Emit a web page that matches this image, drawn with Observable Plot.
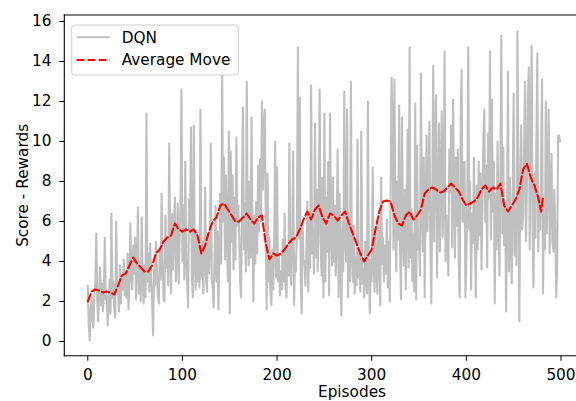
<!DOCTYPE html>
<html><head><meta charset="utf-8">
<script src="https://cdn.jsdelivr.net/npm/d3@7"></script>
<script src="https://cdn.jsdelivr.net/npm/@observablehq/plot@0.6"></script>
<style>
html,body{margin:0;padding:0;background:#fff;}
#chart{position:relative;width:576px;height:401px;overflow:hidden;}
</style></head><body><div id="chart"></div>
<script>
// DQN score per episode (episodes 0..499)
const dqnScores = [
2.8,0.9,0.05,1.6,2.2,1.0,0.7,2.4,3.0,5.4,
2.0,1.0,2.6,3.7,1.8,2.9,1.5,2.4,5.2,2.1,
2.3,0.8,1.9,3.1,1.4,6.4,2.2,3.0,1.6,1.2,
6.0,2.6,2.5,1.5,3.8,1.9,3.2,2.6,4.1,2.3,
3.5,2.2,4.4,1.6,3.0,5.9,3.3,2.6,4.8,3.4,
5.2,2.1,3.6,6.7,2.4,4.0,2.0,6.2,3.1,1.9,
3.8,2.2,11.4,3.0,4.4,2.5,4.9,3.2,2.0,0.3,
3.6,2.8,5.0,3.5,2.3,1.9,4.5,3.1,7.4,4.0,
2.2,2.0,6.3,3.7,5.0,2.8,9.9,4.6,2.4,6.4,
3.6,5.8,7.2,3.0,4.4,6.9,2.9,5.1,7.0,12.6,
4.0,6.8,3.1,9.0,4.2,2.9,1.7,7.1,5.4,10.7,
3.3,2.2,10.8,4.0,2.6,5.5,3.0,4.8,2.7,11.6,
3.2,5.0,2.4,4.1,7.7,3.0,2.5,5.2,3.4,4.6,
9.9,3.1,2.6,1.7,4.5,6.8,3.0,5.5,1.6,4.2,
7.4,3.9,13.5,6.0,9.2,4.1,8.3,5.2,3.0,10.5,
1.4,9.5,5.0,8.3,3.6,7.2,4.1,10.2,5.8,6.8,
5.3,3.0,2.2,7.8,11.7,4.6,6.9,3.5,13.0,5.2,
3.8,8.0,4.2,11.2,5.5,2.0,6.3,3.9,7.0,4.4,
8.8,5.5,9.1,6.0,12.0,7.6,10.7,11.6,6.2,1.6,
8.4,3.0,5.2,2.4,1.8,4.6,2.6,5.0,10.0,3.2,
8.7,3.0,4.4,2.3,3.5,2.6,5.1,3.0,6.4,2.7,
2.2,4.8,3.3,9.9,3.6,2.8,5.4,9.5,1.8,4.2,
3.5,6.0,14.7,5.2,12.2,3.1,1.4,5.8,3.9,4.0,
2.8,4.6,7.0,2.5,6.2,3.7,12.8,4.4,5.6,3.4,
10.9,4.2,7.6,3.5,6.8,12.6,5.0,3.3,8.2,2.2,
11.4,3.0,7.2,4.5,9.0,2.3,11.4,5.6,3.8,8.2,
4.0,6.8,3.3,5.5,9.6,2.2,7.4,4.1,1.3,6.0,
3.5,12.5,5.2,4.0,11.6,2.2,6.3,3.0,13.0,4.5,
3.0,5.8,2.4,4.2,2.8,10.1,3.2,4.6,2.5,10.5,
2.9,3.6,2.2,5.0,3.1,2.4,12.0,3.4,1.4,4.1,
3.0,8.7,4.2,2.5,5.6,3.6,2.4,6.0,4.5,1.8,
8.2,3.9,5.2,3.0,4.8,3.4,6.1,2.7,5.0,2.0,
7.4,13.2,10.9,4.6,13.1,6.2,3.5,8.0,5.1,11.8,
4.4,2.1,11.2,5.3,3.8,7.6,2.6,6.1,10.6,3.7,
14.7,4.2,6.6,3.0,5.4,2.5,11.9,2.1,9.8,4.6,
5.0,3.3,13.4,7.0,4.5,9.2,2.2,6.7,10.3,5.5,
8.0,11.0,4.8,1.9,7.2,13.8,5.0,9.4,12.3,3.2,
6.6,10.9,4.5,8.1,11.5,5.2,7.0,14.5,4.0,6.3,
5.1,3.3,9.6,7.5,10.8,4.7,12.1,7.5,4.2,9.2,
5.8,9.6,3.9,2.2,11.0,13.6,6.0,6.0,9.0,2.2,
4.0,7.3,14.7,5.6,8.0,2.6,6.4,4.9,9.2,5.5,
2.2,7.8,4.6,9.0,5.3,8.4,3.6,6.8,10.2,11.6,
6.0,8.8,3.7,10.4,7.2,14.5,5.1,12.1,6.5,9.0,
1.9,7.4,4.6,10.0,6.2,3.3,8.5,15.3,5.4,9.7,
4.8,7.0,1.5,6.1,13.5,3.5,8.2,5.0,2.9,7.6,
12.4,4.3,6.6,3.8,15.5,9.0,1.0,7.4,10.8,5.6,
6.2,9.4,13.0,5.0,7.8,12.2,13.7,4.6,9.9,14.8,
6.0,2.7,8.4,5.2,10.0,14.4,4.5,7.2,5.6,9.0,
13.1,2.4,6.8,4.6,12.0,5.4,8.0,11.6,4.4,6.6,
9.4,5.0,4.5,7.6,5.7,2.2,4.0,10.3,10.3,10.0
];

// Moving average ("Average Move")
const avgEpisodes = [
0,4,8,12,16,20,24,28,32,36,40,44,48,52,56,60,64,68,72,76,
80,84,88,92,96,100,104,108,112,116,120,124,128,132,136,140,144,148,152,156,
160,164,168,172,176,180,184,188,192,196,200,204,208,212,216,220,224,228,232,236,
240,244,248,252,256,260,264,268,272,276,280,284,288,292,296,300,304,308,312,316,
320,324,328,332,336,340,344,348,352,356,360,364,368,372,376,380,384,388,392,396,
400,404,408,412,416,420,424,428,432,436,440,444,448,452,456,460,464,468,472,476,
479,481
];
const avgScores = [
2.0,2.5,2.6,2.55,2.45,2.5,2.45,2.35,2.8,3.3,3.4,3.8,4.2,3.9,3.7,3.5,3.5,3.8,4.4,4.6,
5.0,5.2,5.3,5.9,5.6,5.5,5.6,5.5,5.6,5.3,4.4,4.8,5.5,6.0,6.2,6.8,6.9,6.6,6.3,6.0,
6.0,6.2,6.4,6.1,5.9,6.2,6.3,4.9,4.1,4.4,4.3,4.4,4.6,4.9,5.1,5.2,5.6,6.1,6.5,6.1,
6.6,6.8,6.2,5.9,6.4,6.3,6.05,6.3,6.5,5.9,5.4,4.9,4.4,4.0,4.3,4.6,5.6,6.5,7.0,7.05,
7.0,6.3,5.9,5.8,6.3,6.5,6.1,6.3,6.6,7.4,7.6,7.7,7.6,7.45,7.5,7.7,7.9,7.7,7.5,7.1,
6.8,6.9,7.0,7.2,7.6,7.8,7.5,7.7,7.6,7.9,6.8,6.5,6.8,7.1,7.6,8.6,8.9,8.2,7.8,7.2,
6.5,7.2
];

const xTicks = [0,100,200,300,400,500];
const yTicks = [0,2,4,6,8,10,12,14,16];
const seriesNames = ["DQN","Average Move"];
const seriesColors = ["#bfbfbf","#ff0000"];
const xLabel = "Episodes";
const yLabel = "Score - Rewards";

const FONT = "DejaVu Sans";
const FS = 15.3;
const dqn = dqnScores.map((score, episode) => ({episode, score}));
const avg = avgEpisodes.map((episode, i) => ({episode, score: avgScores[i]}));

const chart = Plot.plot({
  width: 576, height: 401,
  marginLeft: 64.3, marginRight: 0, marginTop: 15, marginBottom: 45.3,
  style: {fontFamily: FONT, fontSize: FS + "px", color: "black", background: "white"},
  x: {domain: [-24.3, 516.4]},
  y: {domain: [-0.735, 16.3]},
  marks: [
    Plot.lineY(dqn, {x: "episode", y: "score", stroke: seriesColors[0], strokeWidth: 2.1}),
    Plot.lineY(avg, {x: "episode", y: "score", stroke: seriesColors[1], strokeWidth: 2.1, strokeDasharray: "7.7,3.3"}),
    Plot.axisX({ticks: xTicks, tickSize: 5, tickPadding: 8.4, label: null, fontSize: FS}),
    Plot.axisY({ticks: yTicks, tickSize: 5, tickPadding: 8.3, label: null, fontSize: FS})
  ]
});
document.getElementById("chart").appendChild(chart);

const svg = d3.select(chart);
const xs = chart.scale("x"), ys = chart.scale("y");
const L = xs.range[0], R = 576, T = Math.min(...ys.range), B = Math.max(...ys.range);
const spines = svg.append("g").attr("stroke", "black").attr("stroke-width", 1.1).attr("stroke-linecap", "square");
spines.append("line").attr("x1", L).attr("x2", R).attr("y1", T).attr("y2", T);
spines.append("line").attr("x1", L).attr("x2", R).attr("y1", B).attr("y2", B);
spines.append("line").attr("x1", L).attr("x2", L).attr("y1", T).attr("y2", B);

// axis titles
svg.append("text").attr("x", 352).attr("y", 396.8).attr("text-anchor", "middle")
  .attr("font-family", FONT).attr("font-size", FS).attr("fill", "black").text(xLabel);
svg.append("text").attr("transform", `translate(27.5,${(T + B) / 2}) rotate(-90)`).attr("text-anchor", "middle")
  .attr("font-family", FONT).attr("font-size", FS).attr("fill", "black").text(yLabel);

// legend
const lg = svg.append("g");
lg.append("rect").attr("x", 71.7).attr("y", 25).attr("width", 166.6).attr("height", 50).attr("rx", 3)
  .attr("fill", "white").attr("fill-opacity", 0.8).attr("stroke", "#cccccc").attr("stroke-width", 1);
const rows = [37.3, 60];
seriesNames.forEach((name, i) => {
  lg.append("line").attr("x1", 76.7).attr("x2", 110).attr("y1", rows[i]).attr("y2", rows[i])
    .attr("stroke", seriesColors[i]).attr("stroke-width", 2.1)
    .attr("stroke-dasharray", i === 1 ? "7.7,3.3" : null);
  lg.append("text").attr("x", 121.7).attr("y", rows[i] + 5.4).attr("text-anchor", "start")
    .attr("font-family", FONT).attr("font-size", FS).attr("fill", "black").text(name);
});
</script>
</body></html>
